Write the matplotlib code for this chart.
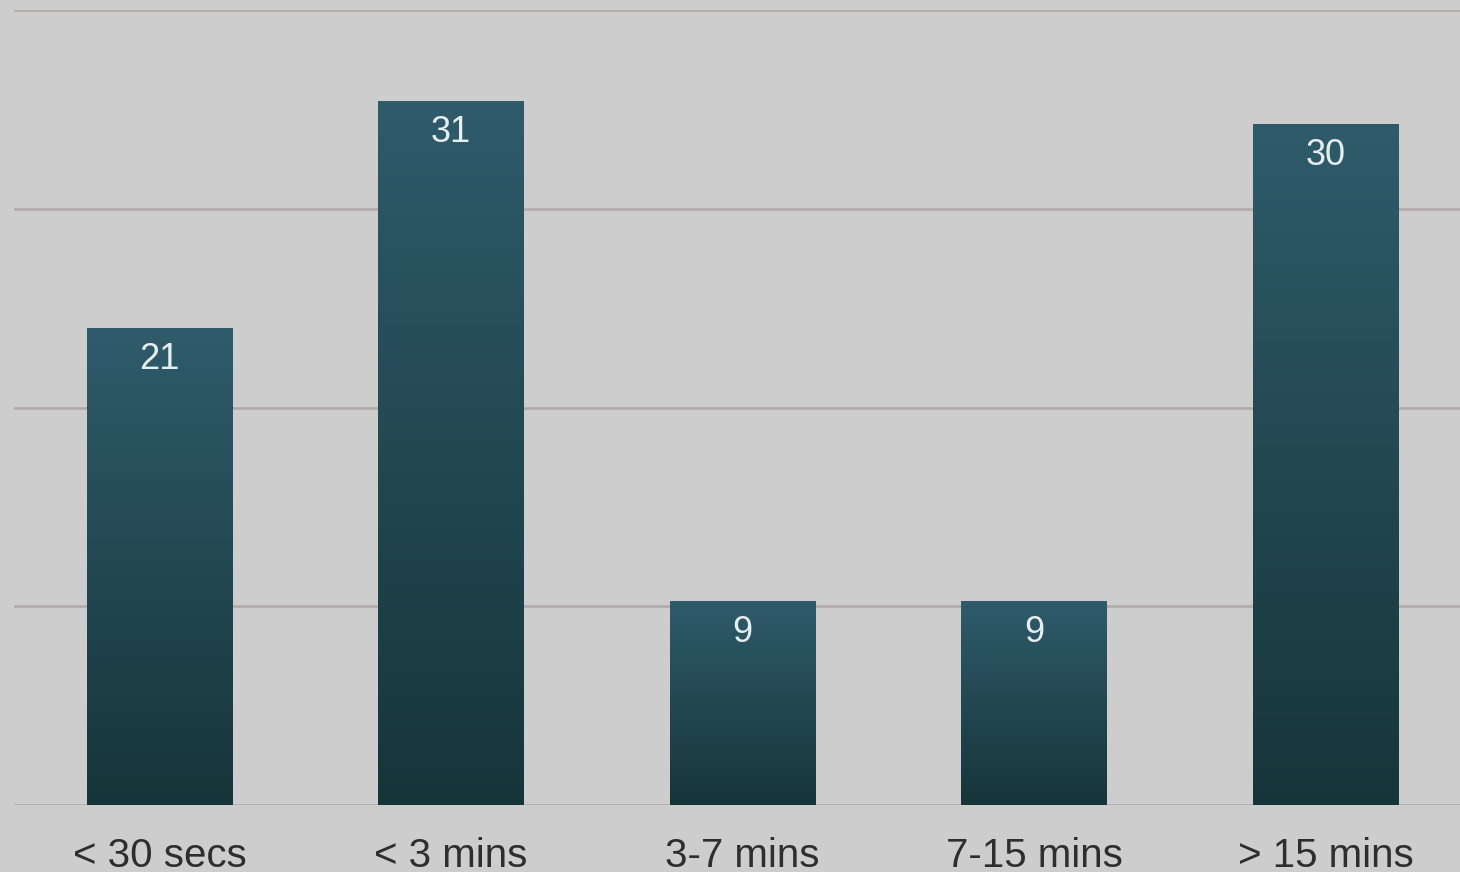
import numpy as np
import matplotlib
matplotlib.use("Agg")
import matplotlib.pyplot as plt
from matplotlib.colors import LinearSegmentedColormap

categories = ["< 30 secs", "< 3 mins", "3-7 mins", "7-15 mins", "> 15 mins"]
values = [21, 31, 9, 9, 30]
y_ticks = [0, 8.75, 17.5, 26.25, 35]

plt.rcParams['font.family'] = ['Liberation Sans', 'DejaVu Sans']

W, H = 1460, 872
fig = plt.figure(figsize=(W / 100, H / 100), dpi=100)
bg = "#cdcdcd"
fig.patch.set_facecolor(bg)

left = 13.75 / W
width = 1457.5 / W
bottom = (H - 805) / H
height = 795 / H
ax = fig.add_axes([left, bottom, width, height])
ax.set_facecolor(bg)

x = np.arange(len(categories))
bars = ax.bar(x, values, width=0.5, color="#24474f", zorder=2)

cmap = LinearSegmentedColormap.from_list("g", ["#163539", "#2f5b6b"])
grad = np.linspace(0, 1, 256).reshape(-1, 1)
for b in bars:
    x0, y0 = b.get_x(), b.get_y()
    w, h = b.get_width(), b.get_height()
    im = ax.imshow(grad, cmap=cmap, origin="lower", aspect="auto",
                   extent=[x0, x0 + w, y0, y0 + h], zorder=3)
    im.set_clip_path(b)
ax.set_xlim(-0.5, len(categories) - 0.5)
ax.set_ylim(0, 35)

for xi, v in zip(x, values):
    ax.annotate(str(v), (xi, v), xytext=(0, -23), textcoords="offset points",
                ha="center", va="center", color="#e6eef0", fontsize=26, zorder=4)

for t in y_ticks:
    ax.axhline(t, color="#b3a9a9", linewidth=1.8, zorder=1)

for s in ax.spines.values():
    s.set_visible(False)
ax.set_yticks([])
ax.set_xticks(x)
ax.set_xticklabels(categories, fontsize=29, color="#2e2e2e")
ax.tick_params(axis="x", length=0, pad=23)

fig.savefig("out.png", dpi=100, facecolor=bg)
